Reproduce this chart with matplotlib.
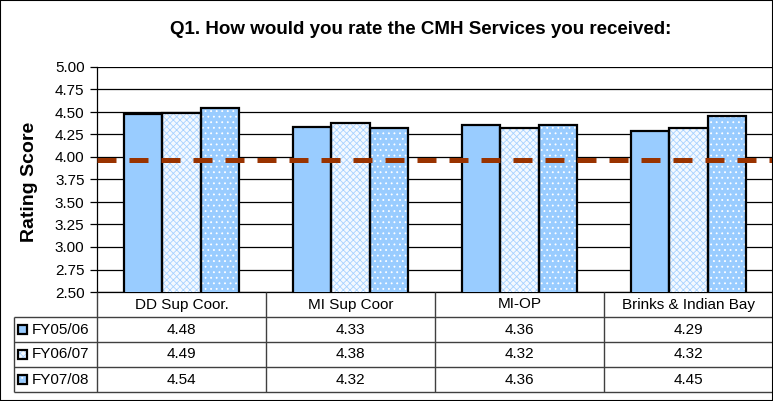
import numpy as np
import matplotlib
matplotlib.use("Agg")
import matplotlib.pyplot as plt
from matplotlib.patches import Rectangle

plt.rcParams["font.family"] = ["Liberation Sans", "DejaVu Sans"]
plt.rcParams["hatch.linewidth"] = 0.6

categories = ["DD Sup Coor.", "MI Sup Coor", "MI-OP", "Brinks & Indian Bay"]
series_names = ["FY05/06", "FY06/07", "FY07/08"]
fy0506 = [4.48, 4.33, 4.36, 4.29]
fy0607 = [4.49, 4.38, 4.32, 4.32]
fy0708 = [4.54, 4.32, 4.36, 4.45]
benchmark = 3.965
y_ticks = np.arange(2.50, 5.01, 0.25)

series = [fy0506, fy0607, fy0708]
# face colour, hatch, hatch colour
styles = [("#99CCFF", None, "#99CCFF"),
          ("#F4F9FF", "xxxxx", "#A8D2FF"),
          ("#99CCFF", "...", "white")]

W, H = 773, 401
fig = plt.figure(figsize=(W / 100, H / 100), dpi=100)

# chart area
ax = fig.add_axes([97 / W, 1 - 292 / H, (773 - 97) / W, 225 / H])
x = np.arange(len(categories))
bw = 0.225
for i, (vals, (fc, hatch, hc)) in enumerate(zip(series, styles)):
    pos = x + (i - 1) * bw
    ax.bar(pos, vals, bw, color=fc, hatch=hatch, edgecolor=hc, linewidth=0, zorder=3)
    ax.bar(pos, vals, bw, fill=False, edgecolor="black", linewidth=1.6, zorder=4)

ax.axhline(benchmark, color="#993300", lw=3.6, dashes=(3.8, 2.6), zorder=6)

ax.set_xlim(-0.5, 3.5)
ax.set_ylim(2.5, 5.0)
ax.set_yticks(y_ticks)
ax.set_yticklabels([f"{t:.2f}" for t in y_ticks], fontsize=11)
ax.set_xticks([])
ax.yaxis.grid(True, color="black", lw=0.9, zorder=0)
ax.tick_params(axis="y", length=5, width=0.9, pad=4)
for s in ["top", "right"]:
    ax.spines[s].set_visible(False)
ax.spines["left"].set_linewidth(0.9)
ax.spines["bottom"].set_linewidth(0.9)

# data table under the chart
tab = fig.add_axes([14 / W, 1 - 392 / H, (773 - 14) / W, 100 / H])
x0 = -0.5 - 83 / 169
tab.set_xlim(x0, 3.5)
tab.set_ylim(4, 0)
tab.axis("off")
lc = "#404040"
tab.hlines([1, 2, 3, 4], x0, 3.5, color=lc, lw=1.0, clip_on=False)
tab.vlines([-0.5, 0.5, 1.5, 2.5], 0, 4, color=lc, lw=1.0, clip_on=False)
tab.vlines([x0], 1, 4, color=lc, lw=1.0, clip_on=False)

for j, name in enumerate(categories):
    tab.text(j, 0.5, name, ha="center", va="center", fontsize=11)
for i, (vals, name, (fc, hatch, hc)) in enumerate(zip(series, series_names, styles)):
    row = i + 1.5
    for j, v in enumerate(vals):
        tab.text(j, row, f"{v:.2f}", ha="center", va="center", fontsize=11)
    kx, kw, kh = x0 + 4 / 169, 9 / 169, 9 / 25
    tab.add_patch(Rectangle((kx, row - kh / 2), kw, kh, facecolor=fc, hatch=hatch,
                            edgecolor=hc, linewidth=0, clip_on=False))
    tab.add_patch(Rectangle((kx, row - kh / 2), kw, kh, fill=False,
                            edgecolor="black", linewidth=1.6, clip_on=False))
    tab.text(x0 + 18 / 169, row, name, ha="left", va="center", fontsize=11)

fig.text(421 / W, 1 - 30 / H, "Q1. How would you rate the CMH Services you received:",
         ha="center", va="center", fontsize=13.5, fontweight="bold")
fig.text(29 / W, 1 - 182 / H, "Rating Score", rotation=90, ha="center", va="center",
         fontsize=14, fontweight="bold")

fig.patches.append(Rectangle((0, 0), 1, 1, transform=fig.transFigure, fill=False,
                             edgecolor="black", linewidth=1.5))

fig.savefig("out.png", dpi=100)
